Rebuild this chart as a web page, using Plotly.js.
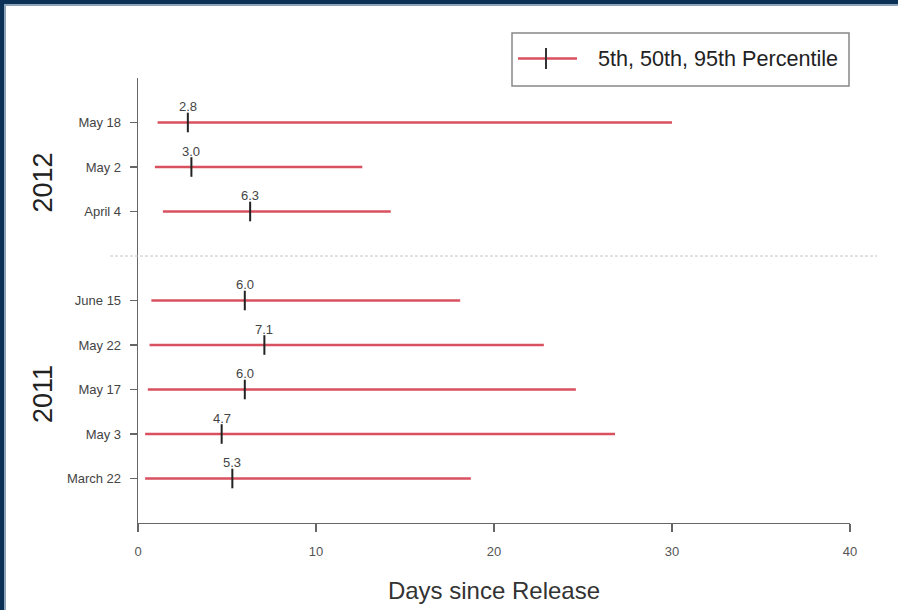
<!DOCTYPE html>
<html>
<head>
<meta charset="utf-8">
<script src="https://cdn.plot.ly/plotly-3.0.1.min.js"></script>
<style>
  html, body { margin: 0; padding: 0; background: #ffffff; }
  #wrap { position: relative; width: 898px; height: 610px; }
  #chart { position: absolute; left: 0; top: 0; width: 898px; height: 610px; }
  #frame {
    position: absolute; left: 0; top: 0; width: 898px; height: 610px;
    pointer-events: none;
    box-shadow: inset 4px 4px 0 #0b3157, inset 6px 6px 0 #8ea3b9;
  }
</style>
</head>
<body>
<div id="wrap">
  <div id="chart"></div>
  <div id="frame"></div>
</div>
<script>
// Release dates, grouped by year (bottom to top)
const releaseLabels = ['March 22', 'May 3', 'May 17', 'May 22', 'June 15', 'April 4', 'May 2', 'May 18'];
const releaseYears  = [2011, 2011, 2011, 2011, 2011, 2012, 2012, 2012];

// Days since release: 5th, 50th and 95th percentiles
const p5  = [0.4, 0.4, 0.55, 0.65, 0.75, 1.4, 0.95, 1.1];
const p50 = [5.3, 4.7, 6.0, 7.1, 6.0, 6.3, 3.0, 2.8];
const p95 = [18.7, 26.8, 24.6, 22.8, 18.1, 14.2, 12.6, 30.0];

const xTicks = [0, 10, 20, 30, 40];
const yearGroups = [2011, 2012];

// Row positions: one slot per release, an empty slot between the years
const rowPos = [];
let slot = 0, prevYear = null;
releaseYears.forEach(function (yr) {
  if (prevYear !== null && yr !== prevYear) slot += 1;
  slot += 1;
  rowPos.push(slot);
  prevYear = yr;
});
const yMax = slot + 1;

// Plot-area geometry (pixels) and helpers to place layout items
const W = 898, H = 610;
const M = { l: 138, r: 48, t: 78, b: 87 };
const PW = W - M.l - M.r, PH = H - M.t - M.b;
const px = function (x) { return (x - M.l) / PW; };
const py = function (y) { return (H - M.b - y) / PH; };

const RED = '#d9505e';
const FONT = 'Liberation Sans, Arial, sans-serif';

const trace = {
  type: 'scatter',
  mode: 'markers',
  x: p50,
  y: rowPos,
  showlegend: false,
  hoverinfo: 'skip',
  marker: {
    symbol: 'line-ns',
    size: 14,
    color: '#222222',
    line: { color: '#222222', width: 2 }
  },
  error_x: {
    type: 'data',
    symmetric: false,
    array: p95.map(function (v, i) { return v - p50[i]; }),
    arrayminus: p5.map(function (v, i) { return p50[i] - v; }),
    color: RED,
    thickness: 2.6,
    width: 0
  }
};

// Median value labels above each marker
const medianLabels = p50.map(function (v, i) {
  return {
    x: v, y: rowPos[i], xref: 'x', yref: 'y',
    text: v.toFixed(1), showarrow: false,
    yshift: 16,
    font: { family: FONT, size: 13, color: '#444444' }
  };
});

// Year labels on the far left, next to each group
const yearLabels = yearGroups.map(function (yr) {
  const rows = rowPos.filter(function (_, i) { return releaseYears[i] === yr; });
  const mid = (Math.min.apply(null, rows) + Math.max.apply(null, rows)) / 2;
  return {
    x: px(43), xref: 'paper', y: mid - (yr === 2012 ? 0.35 : 0.1), yref: 'y',
    text: String(yr), showarrow: false, textangle: -90,
    xanchor: 'center', yanchor: 'middle',
    font: { family: FONT, size: 27, color: '#222222' }
  };
});

// Separator between the two year groups
const gapPos = rowPos[releaseYears.lastIndexOf(2011)] + 1;

const shapes = [
  {
    type: 'line', xref: 'paper', yref: 'paper',
    x0: px(110), x1: px(877), y0: gapPos / yMax, y1: gapPos / yMax,
    line: { color: '#c4c4c4', width: 1, dash: '3px,2px' }
  },
  // Legend box and its key
  {
    type: 'rect', xref: 'paper', yref: 'paper',
    x0: px(512), x1: px(849), y0: py(86), y1: py(33),
    line: { color: '#888888', width: 1.5 }, fillcolor: 'rgba(0,0,0,0)'
  },
  {
    type: 'line', xref: 'paper', yref: 'paper',
    x0: px(518), x1: px(577), y0: py(58.5), y1: py(58.5),
    line: { color: RED, width: 2.6 }
  },
  {
    type: 'line', xref: 'paper', yref: 'paper',
    x0: px(546), x1: px(546), y0: py(48), y1: py(69),
    line: { color: '#333333', width: 2 }
  }
];

const legendText = {
  x: px(596), y: py(58.5), xref: 'paper', yref: 'paper',
  xanchor: 'left', yanchor: 'middle', showarrow: false,
  text: '5th, 50th, 95th Percentile',
  font: { family: FONT, size: 21.6, color: '#222222' }
};

const layout = {
  width: W, height: H,
  margin: M,
  paper_bgcolor: '#ffffff',
  plot_bgcolor: '#ffffff',
  showlegend: false,
  font: { family: FONT, color: '#444444' },
  xaxis: {
    range: [0, 40],
    tickvals: xTicks,
    ticktext: xTicks.map(String),
    showgrid: false, zeroline: false,
    showline: true, linecolor: '#666666', linewidth: 1.3,
    ticks: 'outside', ticklen: 8, tickwidth: 1.3, tickcolor: '#666666',
    ticklabelstandoff: 8,
    tickfont: { family: FONT, size: 13, color: '#555555' },
    title: {
      text: 'Days since Release',
      font: { family: FONT, size: 24, color: '#333333' },
      standoff: 24
    }
  },
  yaxis: {
    range: [0, yMax],
    tickvals: rowPos,
    ticktext: releaseLabels,
    showgrid: false, zeroline: false,
    showline: true, linecolor: '#666666', linewidth: 1.3,
    ticks: 'outside', ticklen: 7, tickwidth: 1.3, tickcolor: '#666666',
    ticklabelstandoff: 6,
    tickfont: { family: FONT, size: 13, color: '#444444' }
  },
  shapes: shapes,
  annotations: medianLabels.concat(yearLabels, [legendText])
};

Plotly.newPlot('chart', [trace], layout, { displayModeBar: false, staticPlot: true });
</script>
</body>
</html>
